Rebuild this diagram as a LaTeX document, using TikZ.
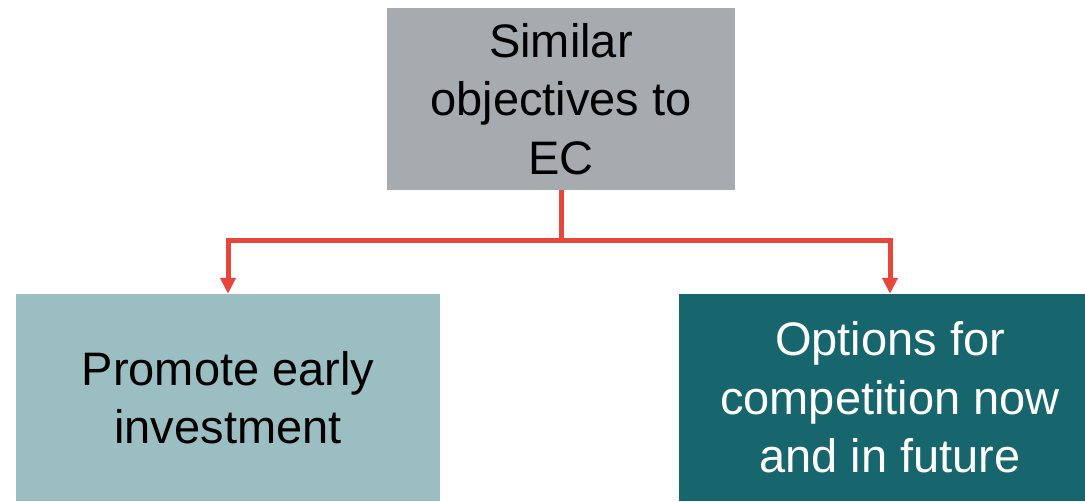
\documentclass[tikz,border=0pt]{standalone}
\usepackage{fontspec}
\setmainfont{Liberation Sans}
\usetikzlibrary{arrows.meta}
\definecolor{boxgray}{HTML}{A5ABAE}
\definecolor{lightteal}{HTML}{9BBEC2}
\definecolor{darkteal}{HTML}{17656D}
\definecolor{linered}{HTML}{E8453B}
\tikzset{
  box/.style={rectangle, inner sep=0pt, align=center, font=\fontsize{47}{58.5}\selectfont},
  link/.style={draw=linered, line width=5pt},
  linkarrow/.style={link, -{Triangle[width=15pt,length=16pt]}, color=linered}
}
\begin{document}
\begin{tikzpicture}[x=1pt,y=-1pt]
\useasboundingbox (0,0) rectangle (1085,501);
\node[box, fill=boxgray, minimum width=348pt, minimum height=182pt, text=black] (top) at (561,99) {Similar\\objectives to\\EC};
\node[box, fill=lightteal, minimum width=424pt, minimum height=207pt, text=black] (left) at (228,397.5) {Promote early\\investment};
\node[box, fill=darkteal, minimum width=422pt, minimum height=207pt, text=white] (right) at (890,397.5) {Options for\\competition now\\and in future};
\coordinate (j) at (561,240);
\draw[link] (top.south) -- (j);
\draw[linkarrow] (j) -| (left.north);
\draw[linkarrow] (j) -| (right.north);
\end{tikzpicture}
\end{document}
